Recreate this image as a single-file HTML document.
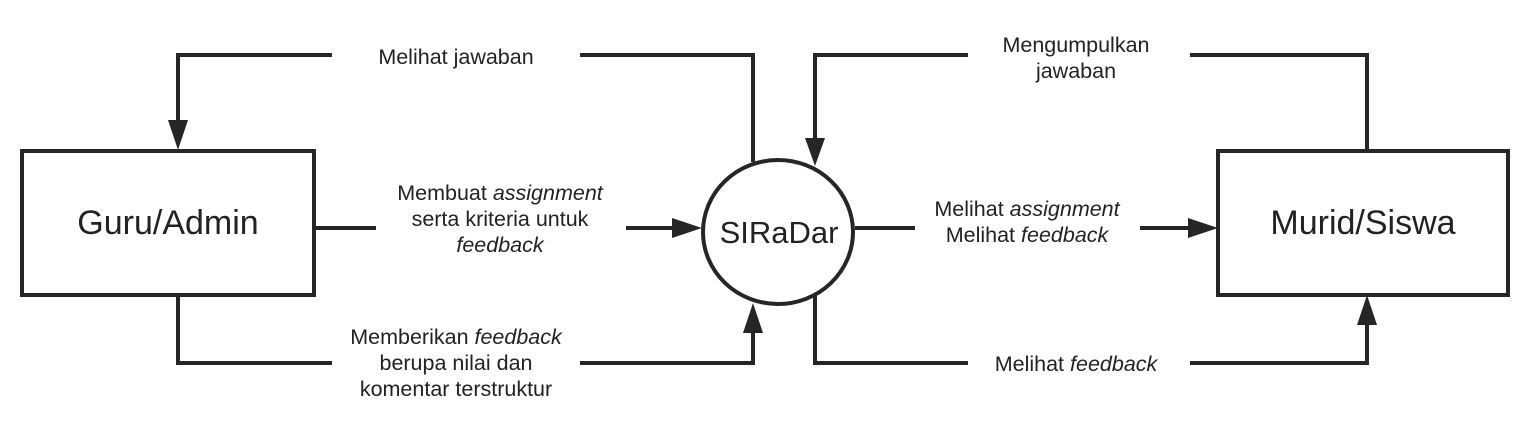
<!DOCTYPE html>
<html><head><style>body{margin:0;background:#fff}svg{display:block}text{font-family:"Liberation Sans",Arial,sans-serif;fill:#222}</style></head><body>
<svg width="1533" height="426" viewBox="0 0 1533 426" xmlns="http://www.w3.org/2000/svg">
<g fill="none" stroke="#262626" stroke-width="4">
<rect x="22" y="151" width="292" height="144"/>
<rect x="1218" y="151" width="290" height="144"/>
<ellipse cx="778" cy="232" rx="75" ry="72"/>
<path d="M332,55 H178 V120"/>
<path d="M580,55 H753 V162"/>
<path d="M314,228 H376"/>
<path d="M626,228 H672"/>
<path d="M178,295 V363 H332"/>
<path d="M580,363 H753 V333"/>
<path d="M968,55 H815 V138"/>
<path d="M1190,55 H1367 V151"/>
<path d="M855,228 H915"/>
<path d="M1140,228 H1190"/>
<path d="M815,295 V363 H968"/>
<path d="M1190,363 H1367 V325"/>
</g>
<g fill="#262626">
<path d="M168,120 L188,120 L178,150z"/>
<path d="M672,218 L702,228 L672,238z"/>
<path d="M743,333 L763,333 L753,303z"/>
<path d="M805,138 L825,138 L815,166z"/>
<path d="M1188,218 L1218,228 L1188,238z"/>
<path d="M1357,325 L1377,325 L1367,295z"/>
</g>
<text x="168" y="234" font-size="34" text-anchor="middle">Guru/Admin</text>
<text x="1363" y="234" font-size="34" text-anchor="middle">Murid/Siswa</text>
<text x="779" y="243" font-size="31" text-anchor="middle">SIRaDar</text>
<g font-size="21.5" text-anchor="middle">
<text x="456" y="64">Melihat jawaban</text>
<text x="500" y="200">Membuat <tspan font-style="italic">assignment</tspan></text>
<text x="500" y="226">serta kriteria untuk</text>
<text x="500" y="252" font-style="italic">feedback</text>
<text x="456" y="344">Memberikan <tspan font-style="italic">feedback</tspan></text>
<text x="456" y="370">berupa nilai dan</text>
<text x="456" y="396">komentar terstruktur</text>
<text x="1076" y="52">Mengumpulkan</text>
<text x="1076" y="78">jawaban</text>
<text x="1027" y="216">Melihat <tspan font-style="italic">assignment</tspan></text>
<text x="1027" y="242">Melihat <tspan font-style="italic">feedback</tspan></text>
<text x="1076" y="371">Melihat <tspan font-style="italic">feedback</tspan></text>
</g>
</svg>
</body></html>
